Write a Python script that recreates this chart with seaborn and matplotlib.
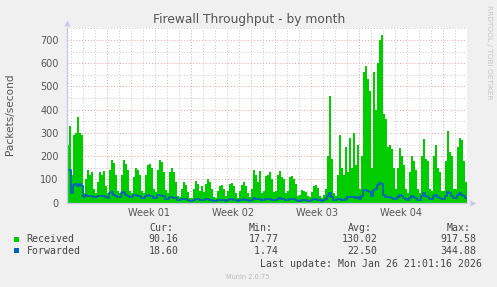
import numpy as np
import pandas as pd
import matplotlib
matplotlib.use("Agg")
import matplotlib.pyplot as plt
from matplotlib.patches import Rectangle
from matplotlib.ticker import MultipleLocator
import seaborn as sns

# ---------------- data (one value per 4 h) ----------------
received = [
    250, 330, 120, 290, 300, 370, 300, 290, 40, 100,
    140, 120, 130, 60, 40, 90, 130, 120, 135, 70,
    40, 140, 185, 170, 120, 50, 40, 120, 185, 165,
    140, 50, 40, 110, 150, 140, 120, 50, 40, 120,
    160, 165, 150, 60, 45, 140, 185, 175, 130, 55,
    40, 130, 150, 130, 90, 30, 25, 60, 90, 75,
    45, 20, 20, 60, 95, 80, 50, 70, 45, 80,
    100, 90, 60, 25, 20, 50, 70, 75, 60, 30,
    50, 80, 85, 70, 40, 20, 50, 75, 90, 70,
    40, 25, 60, 140, 120, 90, 135, 40, 50, 115,
    120, 130, 100, 45, 50, 120, 135, 110, 100, 40,
    50, 110, 115, 100, 80, 30, 35, 55, 50, 45,
    30, 25, 45, 70, 75, 65, 30, 20, 35, 60,
    200, 460, 190, 40, 30, 120, 290, 150, 120, 240,
    130, 280, 150, 300, 160, 250, 60, 200, 560, 590,
    530, 480, 150, 560, 400, 600, 700, 720, 380, 360,
    240, 250, 230, 150, 60, 150, 235, 200, 160, 60,
    40, 130, 200, 180, 140, 60, 40, 200, 275, 190,
    180, 60, 50, 200, 250, 150, 130, 50, 50, 180,
    310, 220, 200, 60, 60, 240, 280, 270, 180, 90,
]
forwarded = [
    140, 140, 40, 75, 80, 70, 80, 70, 25, 35,
    30, 28, 30, 25, 25, 30, 28, 30, 30, 25,
    20, 40, 45, 35, 30, 25, 25, 40, 45, 35,
    30, 25, 25, 35, 35, 30, 30, 20, 20, 30,
    35, 30, 30, 20, 20, 35, 35, 30, 30, 15,
    15, 25, 25, 20, 20, 10, 10, 15, 15, 15,
    12, 8, 8, 12, 15, 15, 12, 10, 10, 15,
    15, 12, 10, 8, 8, 12, 12, 12, 10, 8,
    10, 15, 15, 12, 10, 8, 10, 12, 15, 12,
    10, 8, 12, 20, 18, 15, 15, 10, 10, 15,
    18, 15, 12, 10, 10, 15, 20, 15, 15, 10,
    10, 15, 18, 15, 12, 8, 8, 12, 12, 10,
    8, 8, 10, 15, 15, 12, 10, 8, 10, 15,
    30, 40, 25, 10, 10, 15, 15, 12, 12, 15,
    25, 25, 25, 25, 20, 25, 15, 30, 55, 55,
    50, 45, 30, 55, 60, 75, 85, 80, 35, 25,
    25, 25, 20, 18, 15, 25, 35, 30, 20, 15,
    12, 20, 30, 25, 20, 12, 12, 30, 40, 30,
    25, 15, 15, 30, 35, 25, 20, 15, 15, 30,
    45, 40, 30, 20, 20, 35, 40, 35, 30, 20,
]
series_names = ["Received", "Forwarded"]
series_colors = ["#00cc00", "#0066b3"]
week_labels = ["Week 01", "Week 02", "Week 03", "Week 04"]
week_starts = ["2025-12-28", "2026-01-04", "2026-01-11", "2026-01-18", "2026-01-25"]
cur_vals = ["90.16", "18.60"]
min_vals = ["17.77", " 1.74"]
avg_vals = ["130.02", "22.50"]
max_vals = ["917.58", "344.88"]
title = "Firewall Throughput - by month"
ylabel = "Packets/second"
last_update = "Last update: Mon Jan 26 21:01:16 2026"
footer = "Munin 2.0.75"
watermark = "RRDTOOL / TOBI OETIKER"

# ---------------- figure ----------------
W, H = 497, 287
def fx(x):
    return x / W
def fy(y):
    return 1 - y / H

sns.set_style("white")
plt.rcParams["font.family"] = ["DejaVu Sans"]

fig = plt.figure(figsize=(W / 100, H / 100), dpi=100, facecolor="#f0f0f0")
ax = fig.add_axes([fx(67), fy(202.7), 400 / W, (202.7 - 28.3) / H])
ax.set_facecolor("white")

end = pd.Timestamp("2026-01-26 23:30")
start = end - pd.Timedelta(hours=800)
times = pd.date_range(start, periods=len(received), freq="4h")

# extend last step to the graph end
tx = list(times) + [end]
ry = received + [received[-1]]
fwd = pd.DataFrame({"time": tx, "Forwarded": forwarded + [forwarded[-1]]})

ax.fill_between(tx, ry, 0, step="post", color=series_colors[0], lw=0, zorder=2)
sns.lineplot(data=fwd, x="time", y="Forwarded", drawstyle="steps-post",
             color=series_colors[1], lw=1.3, ax=ax, zorder=3)

ax.set_xlim(start, end)
ax.set_ylim(0, 750)

# grid
minor_c = "#c8c8c8"
major_c = "#e8a0a0"
dot = (0, (1, 2))
ax.yaxis.set_major_locator(MultipleLocator(100))
ax.yaxis.set_minor_locator(MultipleLocator(50))
ax.grid(False)
ax.yaxis.grid(True, which="minor", color=minor_c, linestyle=dot, lw=0.7, zorder=0)
ax.yaxis.grid(True, which="major", color=major_c, linestyle=dot, lw=0.7, zorder=0)
ax.set_axisbelow(True)

days = pd.date_range(start.ceil("D"), end, freq="D")
wk = set(pd.to_datetime(week_starts))
for d in days:
    if d in wk:
        ax.axvline(d, color=major_c, linestyle=dot, lw=0.7, zorder=0.5)
    else:
        ax.axvline(d, color=minor_c, linestyle=dot, lw=0.7, zorder=0.5)

# week labels at mid-week
ws = pd.to_datetime(week_starts)
mids = [ws[i] + (ws[i + 1] - ws[i]) / 2 for i in range(len(week_labels))]
ax.set_xticks(mids)
ax.set_xticklabels(week_labels)
ax.tick_params(axis="x", length=0, pad=4, labelsize=7, labelcolor="#555555")
ax.tick_params(axis="y", length=0, pad=6, labelsize=7, labelcolor="#555555")
ax.tick_params(axis="y", which="minor", length=0)
ax.set_yticks(range(0, 701, 100))
ax.set_xlabel("")
ax.set_ylabel("")

for s in ["top", "right"]:
    ax.spines[s].set_visible(False)
for s in ["left", "bottom"]:
    ax.spines[s].set_color("#c8c8ec")
    ax.spines[s].set_linewidth(1.0)
    ax.spines[s].set_zorder(4)

# axis arrows
ax.plot([0], [1.03], marker="^", ms=4.5, color="#c8c8ec", transform=ax.transAxes,
        clip_on=False, mec="none")
ax.plot([1.015], [0], marker=">", ms=4.5, color="#c8c8ec", transform=ax.transAxes,
        clip_on=False, mec="none")

# texts
fig.text(fx(248.7), fy(19), title, ha="center", va="center", fontsize=8.8, color="#555555")
fig.text(fx(10.5), fy(114), ylabel, ha="center", va="center", rotation=90,
         fontsize=7.6, color="#555555")
fig.text(fx(488.5), fy(5), watermark, ha="center", va="top", rotation=-90,
         fontsize=5.3, color="#c8c8c8")

mono = "DejaVu Sans Mono"
ms = 7.1
tc = "#444444"
hy = 228.3
fig.text(fx(149.3), fy(hy), "Cur:", ha="left", va="center", family=mono, fontsize=ms, color=tc)
fig.text(fx(248.7), fy(hy), "Min:", ha="left", va="center", family=mono, fontsize=ms, color=tc)
fig.text(fx(347.7), fy(hy), "Avg:", ha="left", va="center", family=mono, fontsize=ms, color=tc)
fig.text(fx(446.7), fy(hy), "Max:", ha="left", va="center", family=mono, fontsize=ms, color=tc)

row_y = [239.3, 250.8]
for i, name in enumerate(series_names):
    y = row_y[i]
    fig.add_artist(Rectangle((fx(14), fy(y + 2.5)), 5.3 / W, 5 / H,
                             transform=fig.transFigure, color=series_colors[i], lw=0))
    fig.text(fx(26.7), fy(y), name, ha="left", va="center", family=mono, fontsize=ms, color=tc)
    fig.text(fx(178.7), fy(y), cur_vals[i], ha="right", va="center", family=mono, fontsize=ms, color=tc)
    fig.text(fx(278.3), fy(y), min_vals[i], ha="right", va="center", family=mono, fontsize=ms, color=tc)
    fig.text(fx(377.7), fy(y), avg_vals[i], ha="right", va="center", family=mono, fontsize=ms, color=tc)
    fig.text(fx(476.7), fy(y), max_vals[i], ha="right", va="center", family=mono, fontsize=ms, color=tc)

fig.text(fx(482.3), fy(263.7), last_update, ha="right", va="center", family=mono,
         fontsize=ms, color=tc)
fig.text(fx(248), fy(276.7), footer, ha="center", va="center", fontsize=4.8, color="#bbbbbb")

fig.savefig("out.png", dpi=100, facecolor=fig.get_facecolor())
